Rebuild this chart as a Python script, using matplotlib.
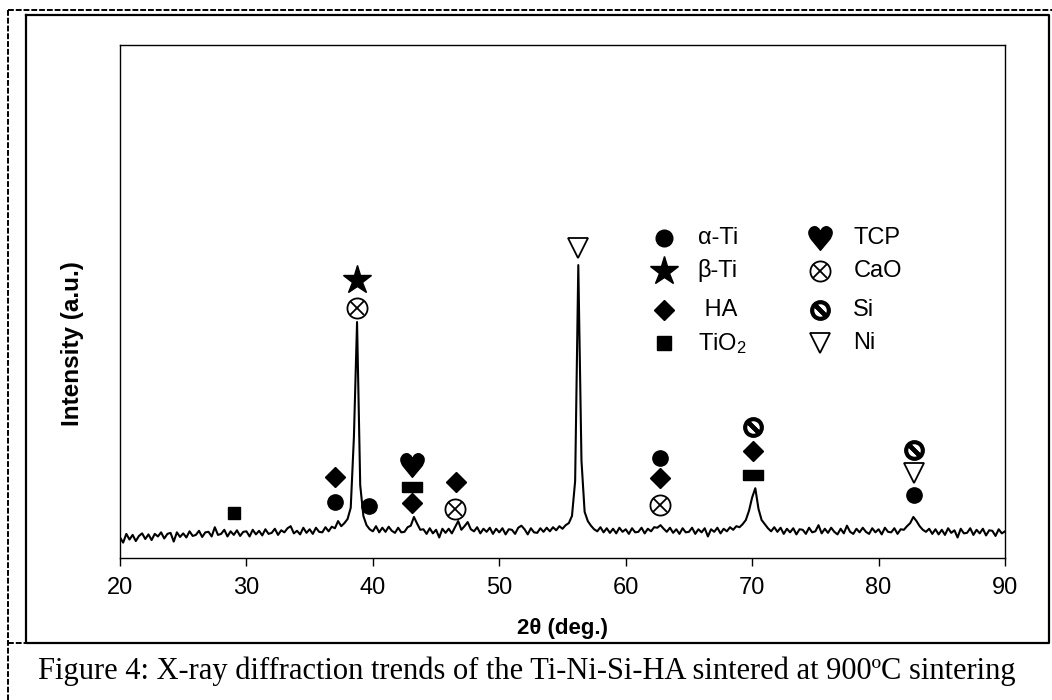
import numpy as np
import matplotlib
matplotlib.use('Agg')
import matplotlib.pyplot as plt
from matplotlib.lines import Line2D

plt.rcParams['font.family'] = ['Liberation Sans', 'DejaVu Sans']
plt.rcParams['mathtext.fontset'] = 'dejavusans'

# XRD pattern at 0.25 deg steps (20..90)
two_theta = np.arange(20, 90.001, 0.25)
intensity = [
    40, 30, 47, 36,  45, 33, 43, 48,  37, 46, 35, 47,  42, 50, 38, 47,  49, 32, 50, 41,   # 20-24
    48, 40, 52, 43,  45, 53, 41, 50,  51, 42, 60, 45,  47, 55, 42, 52,  45, 54, 43, 51,   # 25-29
    52, 42, 55, 46,  53, 44, 56, 47,  49, 57, 45, 54,  50, 58, 62, 48,  53, 46, 59, 49,   # 30-34
    56, 47, 59, 51,  50, 60, 52, 61,  58, 72, 62, 68,  76, 98, 235, 460, 142, 82, 64, 56, # 35-39
    52, 62, 50, 59,  51, 61, 53, 49,  59, 50, 51, 60,  63, 80, 67, 55,  56, 47, 58, 48,   # 40-44
    55, 40, 57, 49,  57, 48, 60, 72,  55, 62, 70, 56,  52, 60, 48, 57,  51, 59, 47, 57,   # 45-49
    50, 58, 46, 56,  55, 47, 59, 63,  56, 46, 58, 50,  49, 58, 51, 59,  52, 60, 54, 62,   # 50-54
    57, 64, 68, 82,  150, 571, 190, 90, 72, 63, 56, 52, 60, 50, 58, 49,  57, 48, 59, 51,  # 55-59
    56, 47, 58, 50,  51, 59, 48, 57,  52, 60, 59, 64,  57, 51, 59, 49,  56, 47, 58, 50,   # 60-64
    51, 59, 47, 56,  50, 58, 42, 56,  51, 59, 48, 57,  52, 60, 55, 62,  60, 66, 74, 92,   # 65-69
    118, 136, 96, 74, 66, 58, 52, 60, 51, 59, 47, 57,  50, 58, 46, 56,  55, 47, 59, 50,   # 70-74
    52, 64, 48, 57,  49, 59, 51, 46,  57, 48, 63, 51,  47, 57, 50, 59,  51, 47, 58, 50,   # 75-79
    56, 46, 59, 51,  50, 58, 47, 56,  55, 62, 68, 80,  72, 62, 55, 51,  57, 47, 56, 46,   # 80-84
    55, 45, 58, 49,  54, 40, 57, 48,  49, 58, 45, 55,  48, 57, 44, 54,  53, 43, 56, 48,   # 85-89
    52]

# phase marks above the peaks
mark_x = [29.0, 37.0, 37.0, 38.75, 38.75, 39.7, 43.1, 43.1, 43.1, 46.6, 46.5,
          56.2, 62.7, 62.7, 62.7, 70.1, 70.1, 70.1, 82.8, 82.8, 82.8]
mark_y = [88, 158, 109, 542, 487, 101, 181, 138, 107, 148, 96,
          604, 195, 156, 103, 255, 209, 162, 211, 166, 123]
mark_kind = ['sq', 'HA', 'aTi', 'bTi', 'CaO', 'aTi', 'TCP', 'rect', 'HA', 'HA', 'CaO',
             'Ni', 'aTi', 'HA', 'CaO', 'Si', 'HA', 'rect', 'Si', 'Ni', 'aTi']

legend_kind = ['aTi', 'bTi', 'HA', 'sq', 'TCP', 'CaO', 'Si', 'Ni']
legend_text = ['α-Ti', 'β-Ti', ' HA', 'TiO$\\mathregular{_2}$', 'TCP', 'CaO', 'Si', 'Ni']

rect = [(-1, -0.5), (1, -0.5), (1, 0.5), (-1, 0.5), (-1, -0.5)]


def symbol(ax, kind, x, y, big=False):
    k = dict(ls='none', color='k', clip_on=False)
    if kind == 'aTi':
        ax.plot(x, y, 'o', ms=12 if big else 11, **k)
    elif kind == 'bTi':
        ax.plot(x, y, '*', ms=21, **k)
    elif kind == 'HA':
        ax.plot(x, y, 'D', ms=10.5, **k)
    elif kind == 'sq':
        ax.plot(x, y, 's', ms=10 if big else 9, **k)
    elif kind == 'rect':
        ax.plot(x, y, marker=rect, ms=15, **k)
    elif kind == 'TCP':
        ax.plot(x, y, marker='$♥$', ms=17, **k)
    elif kind == 'CaO':
        ax.plot(x, y, 'o', ms=14.5, mfc='white', mec='k', mew=1.3, **k)
        ax.plot(x, y, 'x', ms=10.5, mec='k', mew=1.3, **k)
    elif kind == 'Si':
        ax.plot(x, y, 'o', ms=12, mfc='white', mec='k', mew=3, **k)
        ax.plot(x, y, marker=(2, 2, 45), ms=10, mec='k', mew=3, **k)
    elif kind == 'Ni':
        ax.plot(x, y, 'v', ms=15, mfc='white', mec='k', mew=1.3, **k)


fig = plt.figure(figsize=(10.52, 7.0), dpi=100)
ax = fig.add_axes([120 / 1052, 1 - 558 / 700, 885 / 1052, 513 / 700])

ax.plot(two_theta, intensity, color='k', lw=1.5)

for x, y, kd in zip(mark_x, mark_y, mark_kind):
    symbol(ax, kd, x, y)

# legend block drawn by hand, two columns of four
col_sym = [63.0, 75.4]
col_txt = [65.7, 78.0]
row_y = [624, 560, 484, 419]
for i, (kd, tx) in enumerate(zip(legend_kind, legend_text)):
    c, r = divmod(i, 4)
    symbol(ax, kd, col_sym[c], row_y[r], big=True)
    ax.text(col_txt[c], row_y[r], tx, fontsize=17, ha='left', va='center')

ax.set_xlim(20, 90)
ax.set_ylim(0, 1000)
ax.set_xticks(range(20, 91, 10))
ax.set_yticks([])
ax.tick_params(axis='x', direction='out', length=6, width=1, pad=8, labelsize=17)
for sp in ax.spines.values():
    sp.set_linewidth(1.0)

ax.set_xlabel('2θ (deg.)', fontsize=16, fontweight='bold', va='center')
ax.xaxis.set_label_coords(0.5, -0.137)
ax.set_ylabel('Intensity (a.u.)', fontsize=17.5, fontweight='bold', va='center')
ax.yaxis.set_label_coords(-0.054, 0.418)

# page frames around the figure
def px(x, y):
    return x / 1052, 1 - y / 700

solid = [(26, 15), (1049, 15), (1049, 643), (26, 643), (26, 15)]
fig.add_artist(Line2D([px(*p)[0] for p in solid], [px(*p)[1] for p in solid],
                      color='k', lw=1.6))
dash = dict(color='k', lw=1.4, ls=(0, (3, 1)))
fig.add_artist(Line2D([px(8, 10)[0], px(1052, 10)[0]], [px(8, 10)[1], px(1052, 10)[1]], **dash))
fig.add_artist(Line2D([px(8, 10)[0], px(8, 700)[0]], [px(8, 10)[1], px(8, 700)[1]], **dash))
fig.add_artist(Line2D([px(8, 643)[0], px(26, 643)[0]], [px(8, 643)[1], px(26, 643)[1]], **dash))

fig.text(527 / 1052, 1 - 671 / 700,
         'Figure 4: X-ray diffraction trends of the Ti-Ni-Si-HA sintered at 900ºC sintering',
         family='Liberation Serif', fontsize=22, ha='center', va='center')

fig.savefig('out.png', dpi=100)
